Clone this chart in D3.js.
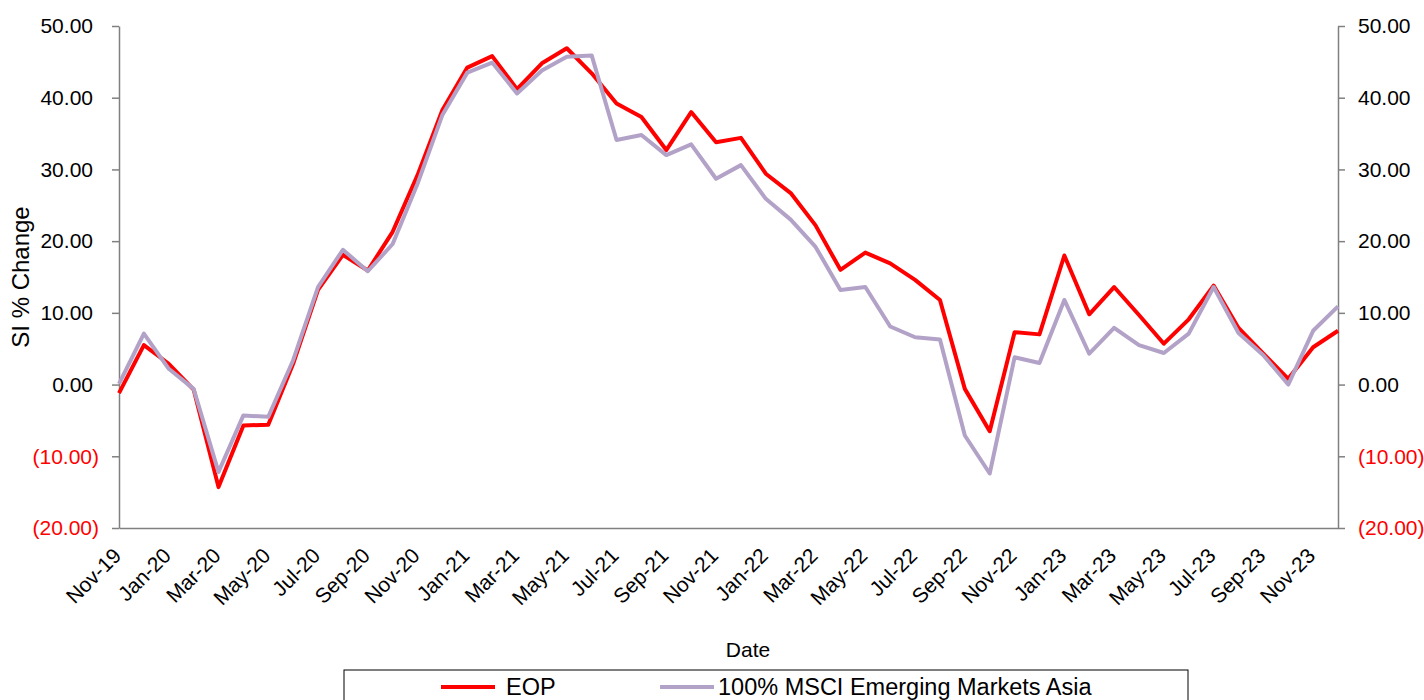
<!DOCTYPE html>
<html>
<head>
<meta charset="utf-8">
<script src="https://cdn.jsdelivr.net/npm/d3@7"></script>
<style>
  body { margin: 0; background: #fff; }
  svg { display: block; font-family: "Liberation Sans", Arial, sans-serif; }
</style>
</head>
<body>
<div id="chart"></div>
<script>
// data
const months = ["Nov-19","Dec-19","Jan-20","Feb-20","Mar-20","Apr-20","May-20","Jun-20","Jul-20","Aug-20","Sep-20","Oct-20",
  "Nov-20","Dec-20","Jan-21","Feb-21","Mar-21","Apr-21","May-21","Jun-21","Jul-21","Aug-21","Sep-21","Oct-21",
  "Nov-21","Dec-21","Jan-22","Feb-22","Mar-22","Apr-22","May-22","Jun-22","Jul-22","Aug-22","Sep-22","Oct-22",
  "Nov-22","Dec-22","Jan-23","Feb-23","Mar-23","Apr-23","May-23","Jun-23","Jul-23","Aug-23","Sep-23","Oct-23",
  "Nov-23","Dec-23"];
const eop = [-1.2, 5.5, 2.9, -0.7, -14.3, -5.7, -5.6, 2.9, 13.2, 18.1, 15.9, 21.3,
  29.2, 38.3, 44.2, 45.8, 41.2, 44.8, 46.9, 43.4, 39.2, 37.3, 32.7, 38.0,
  33.8, 34.4, 29.4, 26.7, 22.2, 16.0, 18.4, 16.9, 14.6, 11.8, -0.6, -6.5,
  7.3, 7.0, 18.0, 9.8, 13.6, 9.7, 5.7, 9.1, 13.8, 7.9, 4.3, 0.8,
  5.2, 7.5];
const msci = [0.1, 7.1, 2.2, -0.6, -12.2, -4.3, -4.5, 3.4, 13.6, 18.8, 15.8, 19.6,
  28.0, 37.6, 43.5, 44.9, 40.6, 43.8, 45.7, 45.9, 34.1, 34.8, 32.0, 33.5,
  28.7, 30.6, 25.9, 23.0, 19.2, 13.2, 13.6, 8.1, 6.6, 6.3, -7.1, -12.4,
  3.8, 3.0, 11.8, 4.3, 7.9, 5.5, 4.4, 7.1, 13.6, 7.2, 4.1, 0.0,
  7.5, 10.9];
const yTicks = [-20, -10, 0, 10, 20, 30, 40, 50];
const seriesNames = ["EOP", "100% MSCI Emerging Markets Asia"];
const seriesColors = ["#ff0000", "#b3a2c7"];

const W = 1424, H = 700;
const plot = { left: 119, right: 1338, top: 26, bottom: 528 };
const axisGrey = "#808080";

const svg = d3.select("#chart").append("svg")
  .attr("width", W).attr("height", H);
svg.append("rect").attr("width", W).attr("height", H).attr("fill", "#fff");

const x = d3.scalePoint().domain(months).range([plot.left, plot.right]);
const y = d3.scaleLinear().domain([-20, 50]).range([plot.bottom, plot.top]);

// accounting style: negatives in brackets, positives leave room for the ")"
const fmt = d => d < 0 ? `(${Math.abs(d).toFixed(2)})` : d.toFixed(2);

const styleAxis = (g, side) => {
  g.select(".domain").attr("stroke", axisGrey).attr("stroke-width", 1.5);
  g.selectAll(".tick line").attr("stroke", axisGrey).attr("stroke-width", 1.5);
  g.selectAll(".tick text")
    .attr("font-size", 21)
    .attr("font-family", "Liberation Sans, Arial, sans-serif")
    .attr("fill", d => d < 0 ? "#ff0000" : "#000")
    .attr("dx", d => (side === "left" && d >= 0) ? -6 : 0);
};

svg.append("g")
  .attr("transform", `translate(${plot.left},0)`)
  .call(d3.axisLeft(y).tickValues(yTicks).tickFormat(fmt).tickSize(7).tickSizeOuter(0).tickPadding(13))
  .call(g => styleAxis(g, "left"));

svg.append("g")
  .attr("transform", `translate(${plot.right},0)`)
  .call(d3.axisRight(y).tickValues(yTicks).tickFormat(fmt).tickSize(7).tickSizeOuter(0).tickPadding(13))
  .call(g => styleAxis(g, "right"));

const xAxis = svg.append("g")
  .attr("transform", `translate(0,${plot.bottom})`)
  .call(d3.axisBottom(x).tickValues(months.filter((m, i) => i % 2 === 0)).tickSize(0).tickSizeOuter(0));
xAxis.select(".domain").attr("stroke", axisGrey).attr("stroke-width", 1.5);
xAxis.selectAll(".tick text")
  .attr("font-size", 21)
  .attr("font-family", "Liberation Sans, Arial, sans-serif")
  .attr("fill", "#000")
  .attr("text-anchor", "end")
  .attr("dy", null)
  .attr("y", 0)
  .attr("transform", "translate(3,29) rotate(-45)");

// lines
const line = d3.line().x((d, i) => x(months[i])).y(d => y(d));
[eop, msci].forEach((vals, k) => {
  svg.append("path")
    .datum(vals)
    .attr("d", line)
    .attr("fill", "none")
    .attr("stroke", seriesColors[k])
    .attr("stroke-width", 4)
    .attr("stroke-linejoin", "round");
});

// axis titles
svg.append("text")
  .attr("transform", `translate(29,${(plot.top + plot.bottom) / 2}) rotate(-90)`)
  .attr("text-anchor", "middle")
  .attr("font-size", 24)
  .text("SI % Change");

svg.append("text")
  .attr("x", 748).attr("y", 657)
  .attr("text-anchor", "middle")
  .attr("font-size", 21)
  .text("Date");

// legend
const legend = svg.append("g");
legend.append("rect")
  .attr("x", 344).attr("y", 670).attr("width", 844).attr("height", 40)
  .attr("fill", "#fff").attr("stroke", "#000").attr("stroke-width", 1);
const legX = [441, 660];
seriesNames.forEach((name, k) => {
  legend.append("line")
    .attr("x1", legX[k]).attr("x2", legX[k] + 54)
    .attr("y1", 687).attr("y2", 687)
    .attr("stroke", seriesColors[k]).attr("stroke-width", 4);
  legend.append("text")
    .attr("x", legX[k] + (k === 0 ? 65 : 58)).attr("y", 695)
    .attr("font-size", 23.5)
    .text(name);
});
</script>
</body>
</html>
